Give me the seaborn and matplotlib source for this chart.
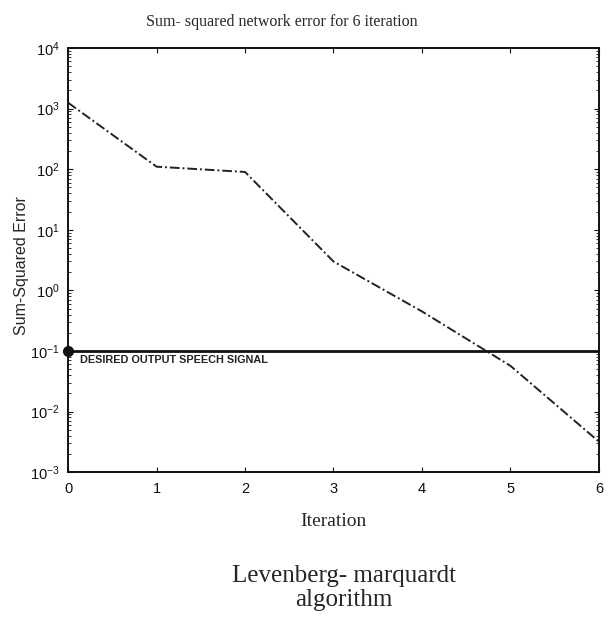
import matplotlib
matplotlib.use("Agg")
import matplotlib.pyplot as plt
import seaborn as sns
import pandas as pd

# Training error per iteration (Levenberg-Marquardt)
iterations = [0, 1, 2, 3, 4, 5, 6]
sse = [1250.0, 110.0, 90.0, 3.0, 0.45, 0.057, 0.0032]
goal = 0.1
x_ticks = [0, 1, 2, 3, 4, 5, 6]
y_ticks = [1e-3, 1e-2, 1e-1, 1e0, 1e1, 1e2, 1e3, 1e4]

sns.set_style("ticks")
plt.rcParams["font.family"] = ["Liberation Sans", "DejaVu Sans"]
plt.rcParams["mathtext.fontset"] = "custom"
plt.rcParams["mathtext.rm"] = "Liberation Sans"

df = pd.DataFrame({"Iteration": iterations, "SSE": sse})

fig = plt.figure(figsize=(6.08, 6.23), dpi=100)
ax = fig.add_axes([0.112, 0.242, 0.873, 0.681])

sns.lineplot(data=df, x="Iteration", y="SSE", ax=ax, color="#222222",
             linewidth=1.4, dashes=False, linestyle=(0, (5, 1.5, 1, 1.5)))
ax.set_yscale("log")

# performance goal
ax.axhline(goal, color="#111111", linewidth=2.0)
ax.plot([0], [goal], "o", color="#111111", markersize=7, clip_on=False, zorder=5)
ax.text(0.14, goal * 0.86, "DESIRED OUTPUT SPEECH SIGNAL", fontsize=7.8,
        fontweight="bold", va="top", ha="left", color="#222222")

ax.set_xlim(0, 6)
ax.set_ylim(1e-3, 1e4)
ax.set_xticks(x_ticks)
ax.set_yticks(y_ticks)
for s in ax.spines.values():
    s.set_visible(True)
    s.set_linewidth(1.4)
    s.set_color("#111111")
ax.tick_params(direction="in", which="both", top=True, right=True,
               labelsize=10.5, colors="#111111")
ax.tick_params(axis="x", pad=7)
ax.tick_params(axis="y", pad=6)
ax.tick_params(which="minor", length=2)

ax.set_xlabel("Iteration", fontsize=14, family="Liberation Serif", labelpad=12)
ax.set_ylabel("Sum-Squared Error", fontsize=11.5)
ax.yaxis.set_label_coords(-0.074, 0.488)
fig.text(0.463, 0.965, "Sum- squared network error for 6 iteration",
         ha="center", va="center", fontsize=11.5, family="Liberation Serif")
fig.text(0.566, 0.056, "Levenberg- marquardt\nalgorithm", ha="center",
         va="center", fontsize=18, family="Liberation Serif", linespacing=1.15)

fig.savefig("out.png", dpi=100, facecolor="white")
